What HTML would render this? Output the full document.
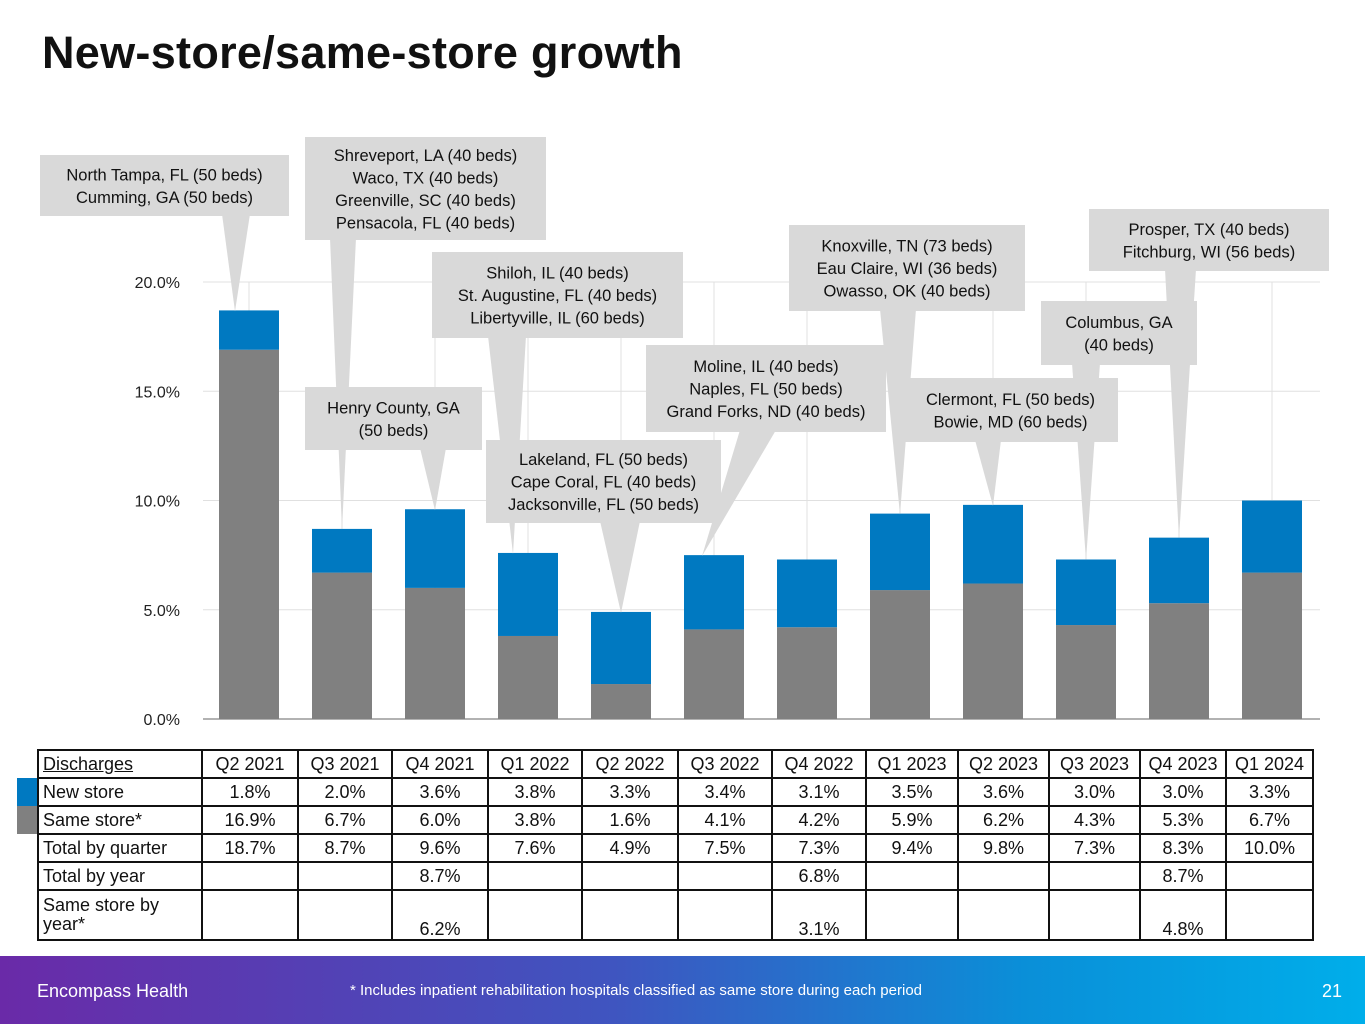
<!DOCTYPE html>
<html><head><meta charset="utf-8">
<style>
body{margin:0;width:1365px;height:1024px;position:relative;background:#fff;font-family:"Liberation Sans",sans-serif;overflow:hidden}
h1{position:absolute;left:42px;top:27px;margin:0;font-size:45px;font-weight:bold;color:#111;letter-spacing:0.3px}
#tbl{position:absolute;left:37px;top:749px;border-collapse:collapse;font-size:18px;color:#111}
#tbl td{border:2px solid #111;padding:0 4px;text-align:center;height:26px;line-height:20px}
#tbl td:first-child{text-align:left}
.footer{position:absolute;left:0;top:956px;width:1365px;height:68px;background:linear-gradient(90deg,#6a2aa8 0%,#3f55c0 45%,#0a8fd8 75%,#00aeea 100%);color:#fff}
</style></head><body>
<h1>New-store/same-store growth</h1>
<svg id="chart" width="1365" height="745" style="position:absolute;left:0;top:0"></svg>
<table id="tbl">
<colgroup><col style="width:164px"><col style="width:96px"><col style="width:94px"><col style="width:96px"><col style="width:94px"><col style="width:96px"><col style="width:94px"><col style="width:94px"><col style="width:92px"><col style="width:91px"><col style="width:91px"><col style="width:86px"><col style="width:87px"></colgroup>
<tbody id="tb"></tbody></table>
<div style="position:absolute;left:17px;top:778px;width:20px;height:28px;background:#0079c1"></div>
<div style="position:absolute;left:17px;top:806px;width:20px;height:28px;background:#808080"></div>
<div class="footer">
<span style="position:absolute;left:37px;top:25px;font-size:18px">Encompass Health</span>
<span style="position:absolute;left:350px;top:26px;font-size:15px">* Includes inpatient rehabilitation hospitals classified as same store during each period</span>
<span style="position:absolute;left:1322px;top:25px;font-size:18px">21</span>
</div>
<script>
const categories=["Q2 2021","Q3 2021","Q4 2021","Q1 2022","Q2 2022","Q3 2022","Q4 2022","Q1 2023","Q2 2023","Q3 2023","Q4 2023","Q1 2024"];
const newStore=[1.8,2.0,3.6,3.8,3.3,3.4,3.1,3.5,3.6,3.0,3.0,3.3];
const sameStore=[16.9,6.7,6.0,3.8,1.6,4.1,4.2,5.9,6.2,4.3,5.3,6.7];
const totalQ=[18.7,8.7,9.6,7.6,4.9,7.5,7.3,9.4,9.8,7.3,8.3,10.0];
const totalYear=["","","8.7%","","","","6.8%","","","","8.7%",""];
const sameYear=["","","6.2%","","","","3.1%","","","","4.8%",""];
const yTicks=[0,5,10,15,20];
const callouts=[
 {lines:["North Tampa, FL (50 beds)","Cumming, GA (50 beds)"],box:[40,155,249,61],base:[222,250],idx:0},
 {lines:["Shreveport, LA (40 beds)","Waco, TX (40 beds)","Greenville, SC (40 beds)","Pensacola, FL (40 beds)"],box:[305,137,241,103],base:[330,356],idx:1},
 {lines:["Henry County, GA","(50 beds)"],box:[305,387,177,63],base:[420,446],idx:2},
 {lines:["Shiloh, IL (40 beds)","St. Augustine, FL (40 beds)","Libertyville, IL (60 beds)"],box:[432,252,251,86],base:[488,526],idx:3},
 {lines:["Lakeland, FL (50 beds)","Cape Coral, FL (40 beds)","Jacksonville, FL (50 beds)"],box:[486,440,235,83],base:[600,640],idx:4},
 {lines:["Moline, IL (40 beds)","Naples, FL (50 beds)","Grand Forks, ND (40 beds)"],box:[646,345,240,87],base:[740,776],idx:5},
 {lines:["Knoxville, TN (73 beds)","Eau Claire, WI (36 beds)","Owasso, OK (40 beds)"],box:[789,225,236,86],base:[880,916],idx:7},
 {lines:["Clermont, FL (50 beds)","Bowie, MD (60 beds)"],box:[903,378,215,64],base:[975,1001],idx:8},
 {lines:["Columbus, GA","(40 beds)"],box:[1041,301,156,64],base:[1072,1100],idx:9},
 {lines:["Prosper, TX (40 beds)","Fitchburg, WI (56 beds)"],box:[1089,209,240,62],base:[1165,1196],idx:10}
];
const NS="http://www.w3.org/2000/svg";
const svg=document.getElementById('chart');
const x0=203,x1=1320,step=93,firstC=249,bw=60;
const y=v=>719-v*21.85;
const xc=i=>firstC+i*step;
function mk(t,a,p){const e=document.createElementNS(NS,t);for(const k in a)e.setAttribute(k,a[k]);(p||svg).appendChild(e);return e;}
yTicks.forEach(v=>{
 const g=mk('line',{x1:x0,x2:x1,y1:y(v),y2:y(v),stroke:v===0?'#999':'#e0e0e0','stroke-width':v===0?1.5:1});
 
 
 const t=mk('text',{x:180,y:y(v)+6,'text-anchor':'end','font-size':16,fill:'#222'});t.textContent=v.toFixed(1)+'%';
 
 
});
categories.forEach((c,i)=>{
 const l=mk('line',{x1:xc(i),x2:xc(i),y1:y(20),y2:y(0),stroke:'#e0e0e0'});
 
 
});
categories.forEach((c,i)=>{
 const s=mk('rect',{x:xc(i)-bw/2,y:y(sameStore[i]),width:bw,height:y(0)-y(sameStore[i]),fill:'#808080'});
 
 
 const n=mk('rect',{x:xc(i)-bw/2,y:y(sameStore[i]+newStore[i]),width:bw,height:y(sameStore[i])-y(sameStore[i]+newStore[i]),fill:'#0079c1'});
 
 
});
callouts.forEach(c=>{
 const [bx,by,w,h]=c.box;
 const tipY=y(sameStore[c.idx]+newStore[c.idx])+1;
 const tipX=xc(c.idx)-(c.idx===3?15:c.idx===5?12:c.idx===0?14:0);
 const p=mk('polygon',{points:`${c.base[0]},${by+h-2} ${c.base[1]},${by+h-2} ${tipX},${tipY}`,fill:'#d9d9d9'});
 
 
});
callouts.forEach(c=>{
 const [bx,by,w,h]=c.box;
 const r=mk('rect',{x:bx,y:by,width:w,height:h,fill:'#d9d9d9'});
 
 
 const n=c.lines.length, lh=22.5, start=by+h/2-(n-1)*lh/2+6;
 c.lines.forEach((s,k)=>{const t=mk('text',{x:bx+w/2,y:start+k*lh,'text-anchor':'middle','font-size':16.5,fill:'#111'});t.textContent=s;
 
 });
});
const tb=document.getElementById('tb');
function row(label,vals,name,extra){
 const tr=document.createElement('tr');
 
 
 [label,...vals].forEach((v,k)=>{const td=document.createElement('td');td.innerHTML=v;if(extra)td.style.cssText=extra;if(extra&&k>0)td.style.verticalAlign='bottom';tr.appendChild(td);});
 tb.appendChild(tr);
}
row('<u>Discharges</u>',categories,'header-row');
row('New store',newStore.map(v=>v.toFixed(1)+'%'),'row-new-store');
row('Same store*',sameStore.map(v=>v.toFixed(1)+'%'),'row-same-store');
row('Total by quarter',totalQ.map(v=>v.toFixed(1)+'%'),'row-total-quarter');
row('Total by year',totalYear,'row-total-year');
row('Same store by<br>year*',sameYear,'row-same-store-year','height:48px;line-height:19px');
</script>
</body></html>
